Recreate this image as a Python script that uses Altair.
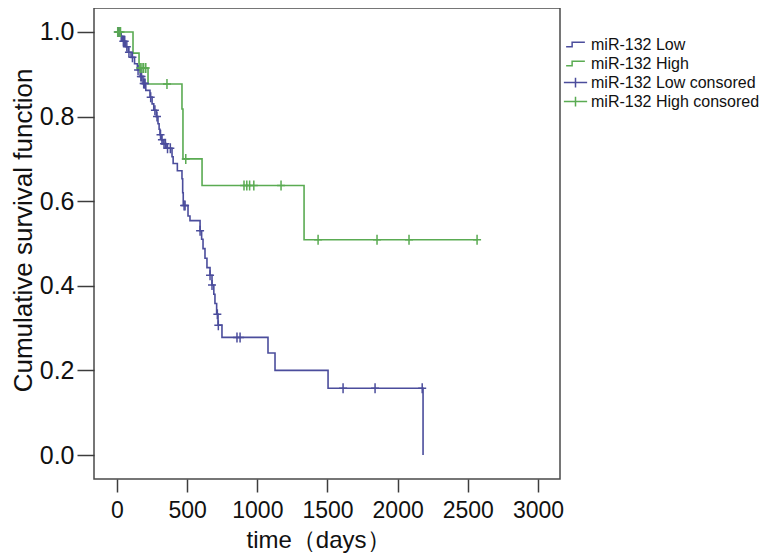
import altair as alt
import pandas as pd

# ---- Kaplan-Meier step data ----
low_time = [0, 20, 40, 60, 80, 100, 125, 145, 165, 185, 205, 235, 250, 262, 280, 292, 300, 306,
            318, 328, 350, 392, 400, 430, 463, 468, 472, 506, 520, 592, 603, 613, 627, 641, 663,
            677, 690, 698, 710, 720, 748, 1076, 1126, 1504, 2181]
low_surv = [1.0, 0.99, 0.978, 0.965, 0.952, 0.94, 0.925, 0.91, 0.895, 0.878, 0.862, 0.846, 0.83,
            0.815, 0.80, 0.783, 0.77, 0.757, 0.745, 0.736, 0.725, 0.705, 0.689, 0.672, 0.653, 0.62,
            0.59, 0.565, 0.554, 0.53, 0.51, 0.488, 0.465, 0.443, 0.425, 0.402, 0.38, 0.358, 0.333,
            0.307, 0.278, 0.241, 0.200, 0.158, 0.0]
high_time = [0, 114, 157, 221, 463, 470, 606, 1333, 2566]
high_surv = [1.0, 0.950, 0.915, 0.877, 0.818, 0.70, 0.637, 0.509, 0.509]

low_cens_time = [8, 15, 30, 45, 55, 70, 85, 110, 150, 170, 175, 190, 195, 200, 240, 270, 285,
                 310, 320, 335, 345, 360, 380, 478, 485, 592, 663, 677, 715, 722, 855, 877,
                 1611, 1839, 2175]
high_cens_time = [5, 15, 25, 165, 178, 190, 205, 356, 490, 905, 925, 945, 975, 1169, 1433,
                  1853, 2081, 2566]

series = ["miR-132 Low", "miR-132 High", "miR-132 Low consored", "miR-132 High consored"]
colors = ["#4b4d9c", "#5aab52", "#4b4d9c", "#5aab52"]
x_ticks = [0, 500, 1000, 1500, 2000, 2500, 3000]
y_ticks = [0.0, 0.2, 0.4, 0.6, 0.8, 1.0]


def lookup(times, survs, t):
    s = survs[0]
    for ti, si in zip(times, survs):
        if ti <= t:
            s = si
    return s


lines = pd.DataFrame({
    "t": low_time + high_time,
    "s": low_surv + high_surv,
    "series": [series[0]] * len(low_time) + [series[1]] * len(high_time),
})
cens = pd.DataFrame({
    "t": low_cens_time + high_cens_time,
    "s": [lookup(low_time, low_surv, t) for t in low_cens_time]
         + [lookup(high_time, high_surv, t) for t in high_cens_time],
    "series": [series[2]] * len(low_cens_time) + [series[3]] * len(high_cens_time),
})
legend_df = pd.DataFrame({"series": series, "t": [0] * 4, "s": [0.0] * 4})

step_path = "M-1.25,0.3H-0.45V-0.3H1.25"
cross_path = "M-1.55,0H1.55M0,-0.65V0.65"
mark_cross = "M-0.8,0H0.8M0,-1V1"

FONT = "Liberation Sans"

x_scale = alt.Scale(domain=[-164, 3157], nice=False, zero=False)
y_scale = alt.Scale(domain=[-0.0567, 1.0567], nice=False, zero=False)
color_scale = alt.Scale(domain=series, range=colors)
shape_scale = alt.Scale(domain=series, range=[step_path, step_path, cross_path, cross_path])

x_axis = alt.Axis(values=x_ticks, format="d", title="time（days）", grid=False, domain=False,
                  tickSize=13, tickWidth=1.5, tickColor="#3c3c3c",
                  labelFont=FONT, labelFontSize=23, labelColor="#111", labelBaseline="alphabetic",
                  labelPadding=25, labelFlush=False,
                  titleFont=FONT, titleFontSize=24, titleFontWeight="normal", titleColor="#111",
                  titleX=224, titleY=68, titleBaseline="alphabetic", titleAnchor="start",
                  titleAlign="center")
y_axis = alt.Axis(values=y_ticks, format=".1f", title="Cumulative survival function", grid=False,
                  domain=False, tickSize=17, tickWidth=1.5, tickColor="#3c3c3c",
                  labelFont=FONT, labelFontSize=25, labelColor="#111", labelPadding=3,
                  labelFlush=False,
                  titleFont=FONT, titleFontSize=26, titleFontWeight="normal", titleColor="#111",
                  titleX=-63, titleY=222, titleBaseline="alphabetic", titleAlign="center",
                  titleAngle=270)

legend = alt.Legend(title=None, orient="none", legendX=473, legendY=28,
                    labelFont=FONT, labelFontSize=16, labelColor="#111", labelOffset=7,
                    labelLimit=300,
                    symbolSize=225, symbolStrokeWidth=1.5, rowPadding=2, padding=0,
                    symbolFillColor="transparent")

line_layer = alt.Chart(lines).mark_line(interpolate="step-after", strokeWidth=1.6).encode(
    x=alt.X("t:Q", scale=x_scale, axis=x_axis),
    y=alt.Y("s:Q", scale=y_scale, axis=y_axis),
    color=alt.Color("series:N", scale=color_scale, legend=legend),
    detail="series:N",
)

cens_layer = alt.Chart(cens).mark_point(shape=mark_cross, size=100, strokeWidth=1.5,
                                        filled=False, opacity=1).encode(
    x=alt.X("t:Q", scale=x_scale),
    y=alt.Y("s:Q", scale=y_scale),
    color=alt.Color("series:N", scale=color_scale, legend=legend),
)

legend_layer = alt.Chart(legend_df).transform_filter("datum.t > 99999").mark_point(
    filled=False, strokeWidth=1.5).encode(
    x=alt.X("t:Q", scale=x_scale),
    y=alt.Y("s:Q", scale=y_scale),
    color=alt.Color("series:N", scale=color_scale, legend=legend),
    shape=alt.Shape("series:N", scale=shape_scale, legend=legend),
)

chart = alt.layer(line_layer, cens_layer, legend_layer).properties(
    width=466, height=471,
    background="white",
    autosize=alt.AutoSizeParams(type="none"),
    padding={"left": 86, "top": 0, "right": 200, "bottom": 77},
).configure_view(stroke="#4a4a4a", strokeWidth=1.5)

chart.save("out.html", embed_options={"renderer": "svg", "actions": False})
